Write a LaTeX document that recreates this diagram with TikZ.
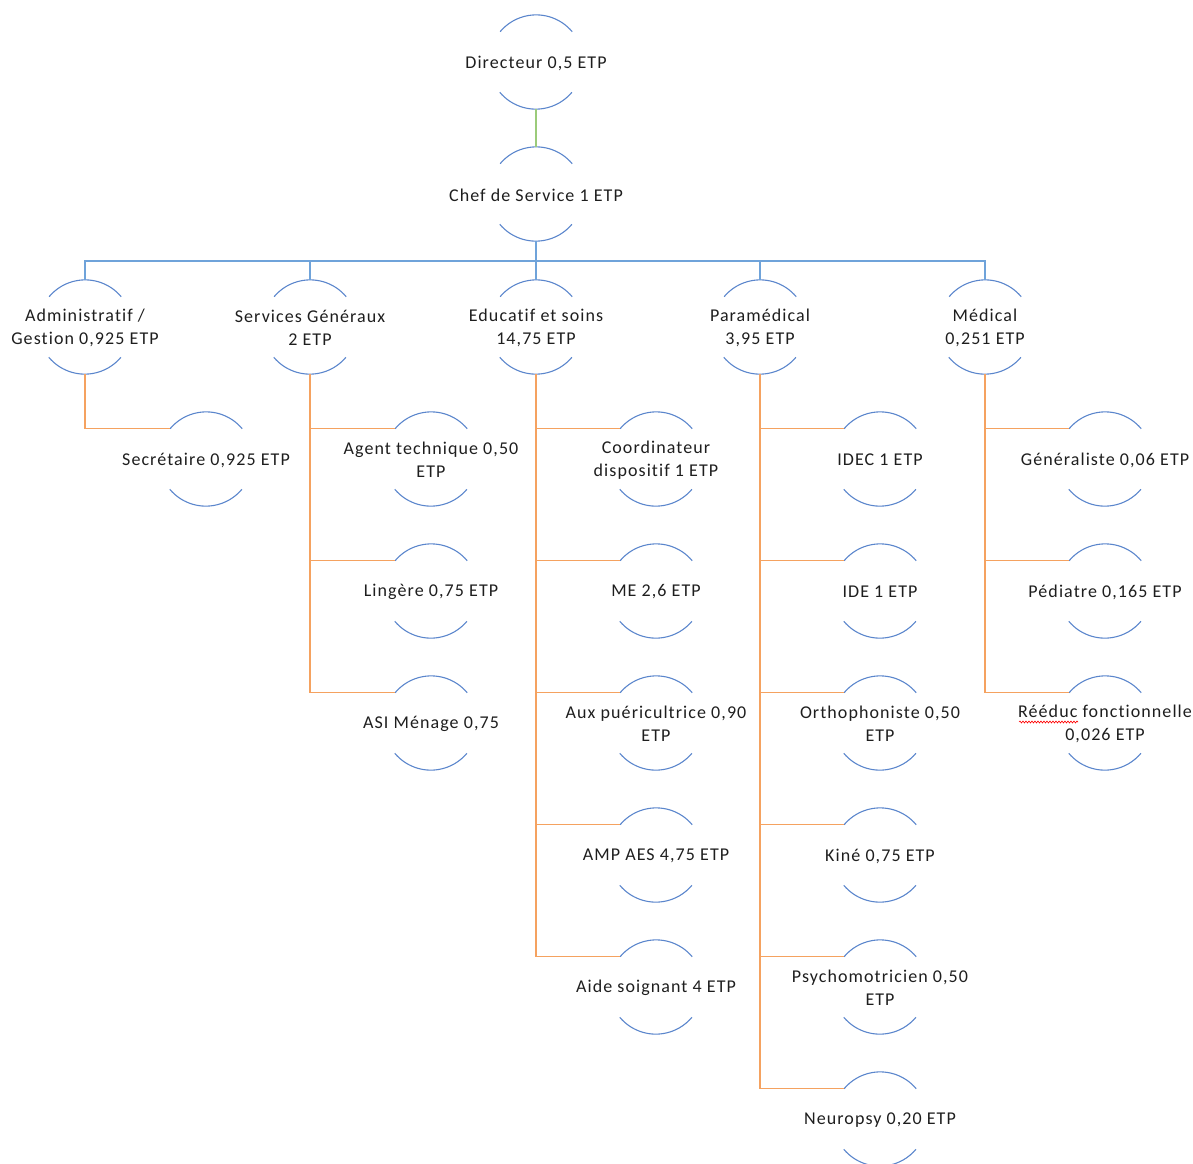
\documentclass[tikz,border=0pt]{standalone}
\usepackage{fontspec}
\setmainfont{Carlito}[LetterSpace=6,Ligatures={NoCommon}]
\usetikzlibrary{decorations.pathmorphing}
\definecolor{arcblue}{HTML}{5B86CC}
\definecolor{busblue}{HTML}{6FA3DA}
\definecolor{lgreen}{HTML}{9BCB7A}
\definecolor{lorange}{HTML}{F5A260}
\definecolor{txt}{HTML}{1E1E1E}
\tikzset{
  lbl/.style={font=\fontsize{18}{23}\selectfont, text=txt, align=center, inner sep=0pt, yshift=-1pt},
  unit/.style={circle, minimum size=94pt, inner sep=0pt, draw=none, label={[lbl]center:#1}},
  arcline/.style={draw=arcblue, line width=1.1pt},
  busline/.style={draw=busblue, line width=1.2pt},
  topline/.style={draw=lgreen, line width=1.2pt},
  childline/.style={draw=lorange, line width=1.2pt},
}
\begin{document}
\begin{tikzpicture}[x=1pt,y=1pt]
\useasboundingbox (0,0) rectangle (1193,-1163);
% nodes
\node[unit={Directeur 0,5 ETP}] (dir) at (536,-62) {};
\node[unit={Chef de Service 1 ETP}] (chef) at (536,-194) {};
\node[unit={Administratif /\\Gestion 0,925 ETP}] (adm) at (85,-327) {};
\node[unit={Services Généraux\\2 ETP}] (sg) at (310,-327) {};
\node[unit={Educatif et soins\\14,75 ETP}] (edu) at (536,-327) {};
\node[unit={Paramédical\\3,95 ETP}] (para) at (760,-327) {};
\node[unit={Médical\\0,251 ETP}] (med) at (985,-327) {};
% children
\node[unit={Secrétaire 0,925 ETP}] (sec) at (206,-459) {};
\node[unit={Agent technique 0,50\\ETP}] (agent) at (431,-459) {};
\node[unit={Lingère 0,75 ETP}] (ling) at (431,-591) {};
\node[unit={ASI Ménage 0,75}] (asi) at (431,-723) {};
\node[unit={Coordinateur\\dispositif 1 ETP}] (coord) at (656,-459) {};
\node[unit={ME 2,6 ETP}] (me) at (656,-591) {};
\node[unit={Aux puéricultrice 0,90\\ETP}] (aux) at (656,-723) {};
\node[unit={AMP AES 4,75 ETP}] (amp) at (656,-855) {};
\node[unit={Aide soignant 4 ETP}] (aide) at (656,-987) {};
\node[unit={IDEC 1 ETP}] (idec) at (880,-459) {};
\node[unit={IDE 1 ETP}] (ide) at (880,-591) {};
\node[unit={Orthophoniste 0,50\\ETP}] (ortho) at (880,-723) {};
\node[unit={Kiné 0,75 ETP}] (kine) at (880,-855) {};
\node[unit={Psychomotricien 0,50\\ETP}] (psy) at (880,-987) {};
\node[unit={Neuropsy 0,20 ETP}] (neuro) at (880,-1119) {};
\node[unit={Généraliste 0,06 ETP}] (gen) at (1105,-459) {};
\node[unit={Pédiatre 0,165 ETP}] (ped) at (1105,-591) {};
\node[unit={Rééduc fonctionnelle\\0,026 ETP}] (reed) at (1105,-723) {};
% arcs
\foreach \n in {dir,chef,adm,sg,edu,para,med,sec,agent,ling,asi,coord,me,aux,amp,aide,idec,ide,ortho,kine,psy,neuro,gen,ped,reed}{
  \draw[arcline] (\n.40) arc[start angle=40,end angle=140,radius=47];
  \draw[arcline] (\n.220) arc[start angle=220,end angle=320,radius=47];
}
% connectors
\draw[topline] (dir.south) -- (chef.north);
\coordinate (bus) at (536,-261);
\foreach \n in {adm,sg,edu,para,med}{
  \draw[busline] (chef.south) -- (bus) -| (\n.north);
}
\draw[childline] (adm.south) |- (sec.140);
\foreach \n in {agent,ling,asi}{ \draw[childline] (sg.south) |- (\n.140); }
\foreach \n in {coord,me,aux,amp,aide}{ \draw[childline] (edu.south) |- (\n.140); }
\foreach \n in {idec,ide,ortho,kine,psy,neuro}{ \draw[childline] (para.south) |- (\n.140); }
\foreach \n in {gen,ped,reed}{ \draw[childline] (med.south) |- (\n.140); }
% spell-check squiggle
\draw[red, line width=0.6pt, decorate, decoration={snake, amplitude=1pt, segment length=3pt}] (1019,-722) -- (1078,-722);
\end{tikzpicture}
\end{document}
